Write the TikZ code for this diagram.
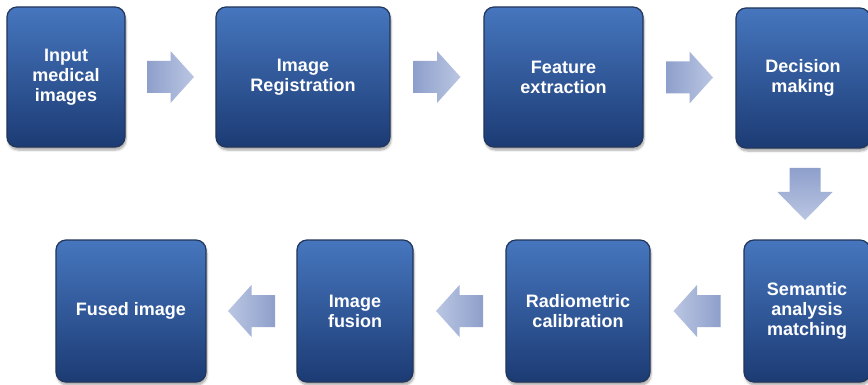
\documentclass[tikz,border=0pt]{standalone}
\usepackage{fontspec}
\setmainfont{Liberation Sans}
\usetikzlibrary{calc,shadows.blur}

\definecolor{boxtop}{HTML}{4676BE}
\definecolor{boxbot}{HTML}{1C3B74}
\definecolor{boxline}{HTML}{22355A}
\definecolor{arrdark}{HTML}{8E9FCB}
\definecolor{arrlight}{HTML}{BAC6E2}

\tikzset{
  stepbox/.style={draw=boxline, line width=1.2pt, rounded corners=10pt,
    top color=boxtop, bottom color=boxbot, text=white,
    font=\bfseries\fontsize{18}{20}\selectfont, align=center,
    minimum height=140pt, inner sep=0pt,
    blur shadow={shadow xshift=1pt, shadow yshift=-3pt, shadow blur steps=6,
      shadow opacity=35}},
  flowarrow/.style={draw=none},
}

% block arrows, drawn around the midpoint of two named anchors
\newcommand{\rightblock}[2]{%
  \path[flowarrow, shift={($(#1)!.5!(#2)$)}, left color=arrdark, right color=arrlight]
    (-23.5,-16) -- (0,-16) -- (0,-26) -- (23.5,0) -- (0,26) -- (0,16) -- (-23.5,16) -- cycle;}
\newcommand{\leftblock}[2]{%
  \path[flowarrow, shift={($(#1)!.5!(#2)$)}, left color=arrlight, right color=arrdark]
    (23.5,-16) -- (0,-16) -- (0,-26) -- (-23.5,0) -- (0,26) -- (0,16) -- (23.5,16) -- cycle;}
\newcommand{\downblock}[2]{%
  \path[flowarrow, shift={($(#1)!.5!(#2)$)}, top color=arrdark, bottom color=arrlight]
    (-15.5,-26) -- (15.5,-26) -- (15.5,-2) -- (27.5,-2) -- (0,26) -- (-27.5,-2) -- (-15.5,-2) -- cycle;}

\begin{document}
\begin{tikzpicture}[x=1pt, y=-1pt]
  \useasboundingbox (0,0) rectangle (868,385);

  % top row
  \node[stepbox, minimum width=118pt] (b1) at (66,77) {Input\\medical\\images};
  \node[stepbox, minimum width=174pt] (b2) at (303,77) {Image\\Registration};
  \node[stepbox, minimum width=159pt] (b3) at (563.5,77) {Feature\\extraction};
  \node[stepbox, minimum width=134pt] (b4) at (803,78) {Decision\\making};

  % bottom row
  \node[stepbox, minimum width=126pt, minimum height=142pt] (b5) at (807,311) {Semantic\\analysis\\matching};
  \node[stepbox, minimum width=144pt, minimum height=142pt] (b6) at (578,311) {Radiometric\\calibration};
  \node[stepbox, minimum width=116pt, minimum height=142pt] (b7) at (355,311) {Image\\fusion};
  \node[stepbox, minimum width=150pt, minimum height=142pt] (b8) at (131,311) {Fused image};

  % arrows between the steps
  \rightblock{b1.east}{b2.west}
  \rightblock{b2.east}{b3.west}
  \rightblock{b3.east}{b4.west}
  \downblock{b4.south}{b5.north}
  \leftblock{b6.east}{b5.west}
  \leftblock{b7.east}{b6.west}
  \leftblock{b8.east}{b7.west}
\end{tikzpicture}
\end{document}
